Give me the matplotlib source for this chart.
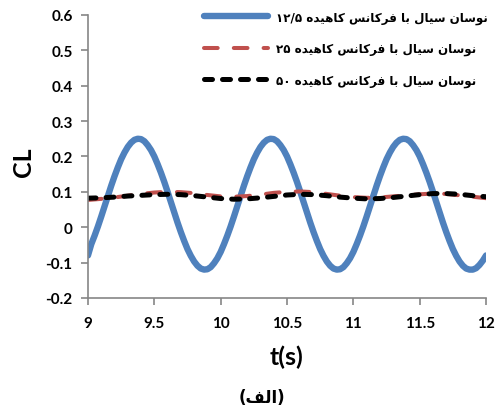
import numpy as np
import matplotlib
matplotlib.use("Agg")
import matplotlib.pyplot as plt

# time axis (s)
t_blue = np.arange(121) * 0.025 + 9.0
t_slow = np.arange(31) * 0.1 + 9.0

# reduced frequency 12.5
cl_125 = [-0.080, -0.048, -0.024, 0.002, 0.030, 0.059, 0.088, 0.117, 0.144, 0.169,
          0.192, 0.211, 0.227, 0.239, 0.247, 0.250, 0.249, 0.243, 0.232, 0.218,
          0.200, 0.178, 0.154, 0.128, 0.100, 0.071, 0.042, 0.013, -0.014, -0.039,
          -0.062, -0.081, -0.097, -0.109, -0.117, -0.120, -0.119, -0.113, -0.102, -0.088,
          -0.070, -0.048, -0.024, 0.002, 0.030, 0.059, 0.088, 0.117, 0.144, 0.169,
          0.192, 0.211, 0.227, 0.239, 0.247, 0.250, 0.249, 0.243, 0.232, 0.218,
          0.200, 0.178, 0.154, 0.128, 0.100, 0.071, 0.042, 0.013, -0.014, -0.039,
          -0.062, -0.081, -0.097, -0.109, -0.117, -0.120, -0.119, -0.113, -0.102, -0.088,
          -0.070, -0.048, -0.024, 0.002, 0.030, 0.059, 0.088, 0.117, 0.144, 0.169,
          0.192, 0.211, 0.227, 0.239, 0.247, 0.250, 0.249, 0.243, 0.232, 0.218,
          0.200, 0.178, 0.154, 0.128, 0.100, 0.071, 0.042, 0.013, -0.014, -0.039,
          -0.062, -0.081, -0.097, -0.109, -0.117, -0.120, -0.120, -0.116, -0.107, -0.095,
          -0.080]
# reduced frequency 25
cl_25 = [0.077, 0.080, 0.084, 0.089, 0.094, 0.098, 0.100, 0.099, 0.096, 0.091,
         0.087, 0.086, 0.088, 0.092, 0.097, 0.100, 0.101, 0.099, 0.094, 0.089,
         0.085, 0.083, 0.084, 0.087, 0.090, 0.093, 0.095, 0.094, 0.090, 0.086,
         0.082]
# reduced frequency 50
cl_50 = [0.082, 0.083, 0.085, 0.088, 0.090, 0.092, 0.093, 0.092, 0.089, 0.085,
         0.081, 0.079, 0.080, 0.083, 0.087, 0.091, 0.093, 0.092, 0.089, 0.085,
         0.082, 0.080, 0.081, 0.084, 0.088, 0.092, 0.095, 0.095, 0.093, 0.089,
         0.086]

labels = ["نوسان سیال با فرکانس کاهیده ۱۲/۵",
          "نوسان سیال با فرکانس کاهیده ۲۵",
          "نوسان سیال با فرکانس کاهیده ۵۰"]
caption = "الف"

# minimal arabic shaping (no bidi support in matplotlib)
FORMS = {  # isolated, final, initial, medial
    'ا': ('\uFE8D', '\uFE8E', None, None),
    'ب': ('\uFE8F', '\uFE90', '\uFE91', '\uFE92'),
    'د': ('\uFEA9', '\uFEAA', None, None),
    'ر': ('\uFEAD', '\uFEAE', None, None),
    'س': ('\uFEB1', '\uFEB2', '\uFEB3', '\uFEB4'),
    'ف': ('\uFED1', '\uFED2', '\uFED3', '\uFED4'),
    'ل': ('\uFEDD', '\uFEDE', '\uFEDF', '\uFEE0'),
    'ن': ('\uFEE5', '\uFEE6', '\uFEE7', '\uFEE8'),
    'ه': ('\uFEE9', '\uFEEA', '\uFEEB', '\uFEEC'),
    'و': ('\uFEED', '\uFEEE', None, None),
    'ک': ('\uFB8E', '\uFB8F', '\uFB90', '\uFB91'),
    'ی': ('\uFBFC', '\uFBFD', '\uFBFE', '\uFBFF'),
}


def shape_word(w):
    out = []
    for i, c in enumerate(w):
        if c not in FORMS:
            out.append(c)
            continue
        prev = w[i - 1] if i > 0 else None
        nxt = w[i + 1] if i + 1 < len(w) else None
        jp = prev in FORMS and FORMS[prev][2] is not None
        jn = FORMS[c][2] is not None and nxt in FORMS
        if jp and jn:
            out.append(FORMS[c][3])
        elif jp:
            out.append(FORMS[c][1])
        elif jn:
            out.append(FORMS[c][2])
        else:
            out.append(FORMS[c][0])
    return "".join(out)


def rtl(s):
    toks = []
    for tok in s.split(" "):
        if any(ch in FORMS for ch in tok):
            toks.append(shape_word(tok)[::-1])
        else:
            toks.append(tok)
    return " ".join(toks[::-1])


plt.rcParams['font.family'] = ['Lato', 'DejaVu Sans']
plt.rcParams['font.weight'] = 'bold'

fig = plt.figure(figsize=(4.97, 4.10), dpi=100)
ax = fig.add_axes([0.177, 0.271, 0.801, 0.690])

ax.plot(t_blue, cl_125, color='#4F81BD', lw=4.6, solid_capstyle='round', label=rtl(labels[0]))
ax.plot(t_slow, cl_25, color='#C0504D', lw=2.9, dashes=(3.4, 4.0), dash_capstyle='round',
        label=rtl(labels[1]))
ax.plot(t_slow, cl_50, color='black', lw=3.6, dashes=(1.6, 2.0), dash_capstyle='round',
        label=rtl(labels[2]))

ax.set_xlim(9, 12)
ax.set_ylim(-0.2, 0.6)
ax.set_xticks([9, 9.5, 10, 10.5, 11, 11.5, 12])
ax.set_xticklabels(['9', '9.5', '10', '10.5', '11', '11.5', '12'])
ax.set_yticks([-0.2, -0.1, 0, 0.1, 0.2, 0.3, 0.4, 0.5, 0.6])
ax.set_yticklabels(['-0.2', '-0.1', '0', '0.1', '0.2', '0.3', '0.4', '0.5', '0.6'])

for s in ['top', 'right']:
    ax.spines[s].set_visible(False)
for s in ['left', 'bottom']:
    ax.spines[s].set_color('#868686')
    ax.spines[s].set_linewidth(1.2)
ax.tick_params(colors='#868686', length=5, width=1.2, labelsize=11, labelcolor='black')
ax.tick_params(axis='y', pad=6)
ax.tick_params(axis='x', pad=8)
for lab in ax.get_xticklabels() + ax.get_yticklabels():
    lab.set_fontweight('bold')

fig.text(0.048, 0.605, 'CL', rotation=90, fontsize=18, fontweight='bold', ha='center', va='center')
fig.text(0.577, 0.128, 't(s)', fontsize=18, fontweight='bold', ha='center', va='center')
fig.text(0.527, 0.030, '(' + rtl(caption) + ')', fontsize=12, fontweight='bold',
         ha='center', va='center', family=['DejaVu Sans'])

leg = fig.legend(loc='upper left', bbox_to_anchor=(0.388, 0.998), frameon=False,
                 handlelength=5.4, handletextpad=0.7, labelspacing=1.52,
                 prop={'family': ['DejaVu Sans'], 'weight': 'bold', 'size': 8.6})

fig.savefig('out.png', dpi=100)
